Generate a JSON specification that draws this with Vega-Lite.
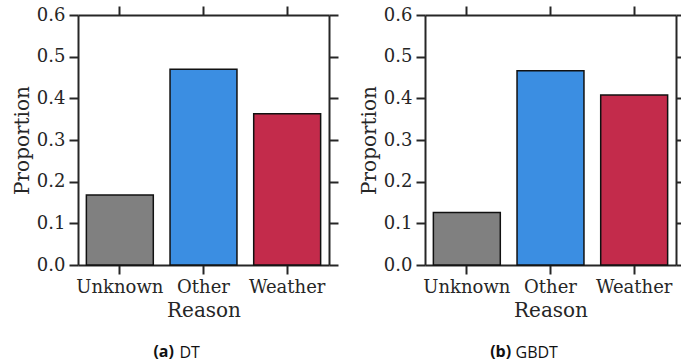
{
  "$schema": "https://vega.github.io/schema/vega-lite/v6.json",
  "padding": {"left": 12, "top": 5, "right": 5, "bottom": 5},
  "config": {
    "view": {"stroke": null},
    "font": "DejaVu Serif",
    "concat": {"spacing": 20},
    "axis": {
      "domainColor": "#262626", "domainWidth": 2,
      "tickColor": "#262626", "tickWidth": 2, "tickSize": 9,
      "labelFont": "DejaVu Serif", "labelFontSize": 18, "labelColor": "#262626", "labelPadding": 4,
      "titleFont": "DejaVu Serif", "titleFontSize": 20, "titleFontWeight": "normal", "titleColor": "#262626",
      "grid": false
    },
    "title": {"font": "Open Sans", "fontSize": 16, "color": "#111111", "orient": "bottom", "anchor": "middle", "frame": "bounds"}
  },
  "datasets": {
    "d": [
      {"model": "DT", "reason": "Unknown", "proportion": 0.168},
      {"model": "DT", "reason": "Other", "proportion": 0.470},
      {"model": "DT", "reason": "Weather", "proportion": 0.363},
      {"model": "GBDT", "reason": "Unknown", "proportion": 0.126},
      {"model": "GBDT", "reason": "Other", "proportion": 0.466},
      {"model": "GBDT", "reason": "Weather", "proportion": 0.408}
    ]
  },
  "hconcat": [
    {
      "title": {"text": "DT", "fontWeight": "normal", "dx": 14, "offset": -15},
      "vconcat": [
        {
          "width": 251, "height": 250,
          "title": {"text": "(a)", "fontWeight": "bold", "dx": -12, "offset": 24},
          "data": {"name": "d"},
          "transform": [{"filter": "datum.model === 'DT'"}],
          "layer": [
            {
              "mark": {"type": "bar", "stroke": "#111111", "strokeWidth": 1.5},
              "encoding": {
                "x": {"field": "reason", "type": "nominal", "sort": ["Unknown", "Other", "Weather"], "scale": {"paddingInner": 0.2, "paddingOuter": 0.1}, "axis": {"orient": "bottom", "title": "Reason", "labelAngle": 0, "labelFont": "DejaVu Serif"}},
                "y": {"field": "proportion", "type": "quantitative", "scale": {"domain": [0, 0.6], "nice": false}, "axis": {"orient": "left", "title": "Proportion", "values": [0, 0.1, 0.2, 0.3, 0.4, 0.5, 0.6], "format": ".1f", "labelFont": "DejaVu Serif"}},
                "color": {"field": "reason", "type": "nominal", "scale": {"domain": ["Unknown", "Other", "Weather"], "range": ["#808080", "#3b8ee2", "#c32b4b"]}, "legend": null}
              }
            },
            {
              "mark": {"type": "bar", "opacity": 0},
              "encoding": {
                "x": {"field": "reason", "type": "nominal", "sort": ["Unknown", "Other", "Weather"], "axis": {"orient": "top", "labels": false, "title": null}},
                "y": {"field": "proportion", "type": "quantitative", "axis": {"orient": "right", "labels": false, "title": null, "values": [0, 0.1, 0.2, 0.3, 0.4, 0.5, 0.6]}}
              }
            }
          ],
          "resolve": {"axis": {"x": "independent", "y": "independent"}}
        }
      ]
    },
    {
      "title": {"text": "GBDT", "fontWeight": "normal", "dx": 14, "offset": -15},
      "vconcat": [
        {
          "width": 251, "height": 250,
          "title": {"text": "(b)", "fontWeight": "bold", "dx": -22, "offset": 24},
          "data": {"name": "d"},
          "transform": [{"filter": "datum.model === 'GBDT'"}],
          "layer": [
            {
              "mark": {"type": "bar", "stroke": "#111111", "strokeWidth": 1.5},
              "encoding": {
                "x": {"field": "reason", "type": "nominal", "sort": ["Unknown", "Other", "Weather"], "scale": {"paddingInner": 0.2, "paddingOuter": 0.1}, "axis": {"orient": "bottom", "title": "Reason", "labelAngle": 0, "labelFont": "DejaVu Serif"}},
                "y": {"field": "proportion", "type": "quantitative", "scale": {"domain": [0, 0.6], "nice": false}, "axis": {"orient": "left", "title": "Proportion", "values": [0, 0.1, 0.2, 0.3, 0.4, 0.5, 0.6], "format": ".1f", "labelFont": "DejaVu Serif"}},
                "color": {"field": "reason", "type": "nominal", "scale": {"domain": ["Unknown", "Other", "Weather"], "range": ["#808080", "#3b8ee2", "#c32b4b"]}, "legend": null}
              }
            },
            {
              "mark": {"type": "bar", "opacity": 0},
              "encoding": {
                "x": {"field": "reason", "type": "nominal", "sort": ["Unknown", "Other", "Weather"], "axis": {"orient": "top", "labels": false, "title": null}},
                "y": {"field": "proportion", "type": "quantitative", "axis": {"orient": "right", "labels": false, "title": null, "values": [0, 0.1, 0.2, 0.3, 0.4, 0.5, 0.6]}}
              }
            }
          ],
          "resolve": {"axis": {"x": "independent", "y": "independent"}}
        }
      ]
    }
  ]
}
